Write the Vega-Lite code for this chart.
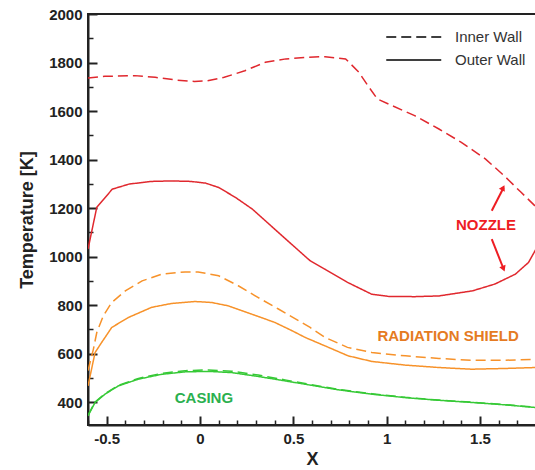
{
  "$schema": "https://vega.github.io/schema/vega-lite/v6.json",
  "width": 448,
  "height": 411,
  "autosize": {"type": "none"},
  "padding": {"left": 88, "top": 14, "right": 0, "bottom": 45},
  "background": "white",
  "config": {
    "view": {"stroke": "#222", "strokeWidth": 2},
    "font": "Liberation Sans",
    "axis": {"labelFont": "Liberation Sans", "titleFont": "Liberation Sans"},
    "legend": {"symbolBaseStrokeColor": "black", "symbolBaseFillColor": "transparent"}
  },
  "datasets": {
    "curves": [
      {"c": "nozzle", "w": "Inner Wall", "x": -0.6, "t": 1736},
      {"c": "nozzle", "w": "Inner Wall", "x": -0.51, "t": 1743},
      {"c": "nozzle", "w": "Inner Wall", "x": -0.35, "t": 1746},
      {"c": "nozzle", "w": "Inner Wall", "x": -0.24, "t": 1739},
      {"c": "nozzle", "w": "Inner Wall", "x": -0.13, "t": 1728},
      {"c": "nozzle", "w": "Inner Wall", "x": -0.03, "t": 1722},
      {"c": "nozzle", "w": "Inner Wall", "x": 0.04, "t": 1725},
      {"c": "nozzle", "w": "Inner Wall", "x": 0.13, "t": 1739},
      {"c": "nozzle", "w": "Inner Wall", "x": 0.24, "t": 1766},
      {"c": "nozzle", "w": "Inner Wall", "x": 0.35, "t": 1801},
      {"c": "nozzle", "w": "Inner Wall", "x": 0.46, "t": 1815},
      {"c": "nozzle", "w": "Inner Wall", "x": 0.58, "t": 1822},
      {"c": "nozzle", "w": "Inner Wall", "x": 0.67, "t": 1824},
      {"c": "nozzle", "w": "Inner Wall", "x": 0.78, "t": 1815},
      {"c": "nozzle", "w": "Inner Wall", "x": 0.85, "t": 1761},
      {"c": "nozzle", "w": "Inner Wall", "x": 0.9, "t": 1704},
      {"c": "nozzle", "w": "Inner Wall", "x": 0.95, "t": 1650},
      {"c": "nozzle", "w": "Inner Wall", "x": 1.03, "t": 1622},
      {"c": "nozzle", "w": "Inner Wall", "x": 1.15, "t": 1581},
      {"c": "nozzle", "w": "Inner Wall", "x": 1.28, "t": 1526},
      {"c": "nozzle", "w": "Inner Wall", "x": 1.4, "t": 1471},
      {"c": "nozzle", "w": "Inner Wall", "x": 1.53, "t": 1402},
      {"c": "nozzle", "w": "Inner Wall", "x": 1.63, "t": 1333},
      {"c": "nozzle", "w": "Inner Wall", "x": 1.72, "t": 1265},
      {"c": "nozzle", "w": "Inner Wall", "x": 1.8, "t": 1205},
      {"c": "nozzle", "w": "Outer Wall", "x": -0.6, "t": 1031},
      {"c": "nozzle", "w": "Outer Wall", "x": -0.553, "t": 1203},
      {"c": "nozzle", "w": "Outer Wall", "x": -0.47, "t": 1278},
      {"c": "nozzle", "w": "Outer Wall", "x": -0.38, "t": 1299},
      {"c": "nozzle", "w": "Outer Wall", "x": -0.26, "t": 1310},
      {"c": "nozzle", "w": "Outer Wall", "x": -0.15, "t": 1312},
      {"c": "nozzle", "w": "Outer Wall", "x": -0.05, "t": 1310},
      {"c": "nozzle", "w": "Outer Wall", "x": 0.03, "t": 1303},
      {"c": "nozzle", "w": "Outer Wall", "x": 0.1, "t": 1285},
      {"c": "nozzle", "w": "Outer Wall", "x": 0.19, "t": 1244},
      {"c": "nozzle", "w": "Outer Wall", "x": 0.28, "t": 1196},
      {"c": "nozzle", "w": "Outer Wall", "x": 0.37, "t": 1134},
      {"c": "nozzle", "w": "Outer Wall", "x": 0.46, "t": 1072},
      {"c": "nozzle", "w": "Outer Wall", "x": 0.53, "t": 1024},
      {"c": "nozzle", "w": "Outer Wall", "x": 0.59, "t": 983},
      {"c": "nozzle", "w": "Outer Wall", "x": 0.67, "t": 948},
      {"c": "nozzle", "w": "Outer Wall", "x": 0.79, "t": 894},
      {"c": "nozzle", "w": "Outer Wall", "x": 0.92, "t": 845},
      {"c": "nozzle", "w": "Outer Wall", "x": 1.01, "t": 836},
      {"c": "nozzle", "w": "Outer Wall", "x": 1.15, "t": 835},
      {"c": "nozzle", "w": "Outer Wall", "x": 1.28, "t": 838},
      {"c": "nozzle", "w": "Outer Wall", "x": 1.46, "t": 859},
      {"c": "nozzle", "w": "Outer Wall", "x": 1.58, "t": 887},
      {"c": "nozzle", "w": "Outer Wall", "x": 1.69, "t": 928},
      {"c": "nozzle", "w": "Outer Wall", "x": 1.76, "t": 976},
      {"c": "nozzle", "w": "Outer Wall", "x": 1.8, "t": 1031},
      {"c": "shield", "w": "Inner Wall", "x": -0.6, "t": 530},
      {"c": "shield", "w": "Inner Wall", "x": -0.571, "t": 619},
      {"c": "shield", "w": "Inner Wall", "x": -0.553, "t": 687},
      {"c": "shield", "w": "Inner Wall", "x": -0.518, "t": 756},
      {"c": "shield", "w": "Inner Wall", "x": -0.473, "t": 811},
      {"c": "shield", "w": "Inner Wall", "x": -0.4, "t": 859},
      {"c": "shield", "w": "Inner Wall", "x": -0.31, "t": 900},
      {"c": "shield", "w": "Inner Wall", "x": -0.205, "t": 928},
      {"c": "shield", "w": "Inner Wall", "x": -0.08, "t": 937},
      {"c": "shield", "w": "Inner Wall", "x": -0.01, "t": 937},
      {"c": "shield", "w": "Inner Wall", "x": 0.1, "t": 921},
      {"c": "shield", "w": "Inner Wall", "x": 0.205, "t": 880},
      {"c": "shield", "w": "Inner Wall", "x": 0.31, "t": 832},
      {"c": "shield", "w": "Inner Wall", "x": 0.42, "t": 784},
      {"c": "shield", "w": "Inner Wall", "x": 0.53, "t": 735},
      {"c": "shield", "w": "Inner Wall", "x": 0.59, "t": 708},
      {"c": "shield", "w": "Inner Wall", "x": 0.67, "t": 667},
      {"c": "shield", "w": "Inner Wall", "x": 0.79, "t": 626},
      {"c": "shield", "w": "Inner Wall", "x": 0.92, "t": 605},
      {"c": "shield", "w": "Inner Wall", "x": 1.1, "t": 591},
      {"c": "shield", "w": "Inner Wall", "x": 1.28, "t": 580},
      {"c": "shield", "w": "Inner Wall", "x": 1.455, "t": 573},
      {"c": "shield", "w": "Inner Wall", "x": 1.634, "t": 573},
      {"c": "shield", "w": "Inner Wall", "x": 1.8, "t": 577},
      {"c": "shield", "w": "Outer Wall", "x": -0.6, "t": 467},
      {"c": "shield", "w": "Outer Wall", "x": -0.562, "t": 605},
      {"c": "shield", "w": "Outer Wall", "x": -0.527, "t": 646},
      {"c": "shield", "w": "Outer Wall", "x": -0.473, "t": 708},
      {"c": "shield", "w": "Outer Wall", "x": -0.384, "t": 749},
      {"c": "shield", "w": "Outer Wall", "x": -0.259, "t": 791},
      {"c": "shield", "w": "Outer Wall", "x": -0.152, "t": 807},
      {"c": "shield", "w": "Outer Wall", "x": -0.027, "t": 815},
      {"c": "shield", "w": "Outer Wall", "x": 0.062, "t": 811},
      {"c": "shield", "w": "Outer Wall", "x": 0.152, "t": 797},
      {"c": "shield", "w": "Outer Wall", "x": 0.277, "t": 763},
      {"c": "shield", "w": "Outer Wall", "x": 0.4, "t": 729},
      {"c": "shield", "w": "Outer Wall", "x": 0.5, "t": 692},
      {"c": "shield", "w": "Outer Wall", "x": 0.563, "t": 667},
      {"c": "shield", "w": "Outer Wall", "x": 0.67, "t": 632},
      {"c": "shield", "w": "Outer Wall", "x": 0.794, "t": 591},
      {"c": "shield", "w": "Outer Wall", "x": 0.92, "t": 568},
      {"c": "shield", "w": "Outer Wall", "x": 1.098, "t": 553},
      {"c": "shield", "w": "Outer Wall", "x": 1.277, "t": 543},
      {"c": "shield", "w": "Outer Wall", "x": 1.455, "t": 536},
      {"c": "shield", "w": "Outer Wall", "x": 1.634, "t": 539},
      {"c": "shield", "w": "Outer Wall", "x": 1.8, "t": 543},
      {"c": "casing", "w": "Inner Wall", "x": -0.6, "t": 346},
      {"c": "casing", "w": "Inner Wall", "x": -0.562, "t": 401},
      {"c": "casing", "w": "Inner Wall", "x": -0.509, "t": 435},
      {"c": "casing", "w": "Inner Wall", "x": -0.438, "t": 469},
      {"c": "casing", "w": "Inner Wall", "x": -0.33, "t": 498},
      {"c": "casing", "w": "Inner Wall", "x": -0.205, "t": 519},
      {"c": "casing", "w": "Inner Wall", "x": -0.08, "t": 530},
      {"c": "casing", "w": "Inner Wall", "x": 0.045, "t": 533},
      {"c": "casing", "w": "Inner Wall", "x": 0.17, "t": 528},
      {"c": "casing", "w": "Inner Wall", "x": 0.312, "t": 512},
      {"c": "casing", "w": "Inner Wall", "x": 0.455, "t": 492},
      {"c": "casing", "w": "Inner Wall", "x": 0.563, "t": 477},
      {"c": "casing", "w": "Inner Wall", "x": 0.741, "t": 453},
      {"c": "casing", "w": "Inner Wall", "x": 0.92, "t": 435},
      {"c": "casing", "w": "Inner Wall", "x": 1.098, "t": 420},
      {"c": "casing", "w": "Inner Wall", "x": 1.277, "t": 409},
      {"c": "casing", "w": "Inner Wall", "x": 1.455, "t": 400},
      {"c": "casing", "w": "Inner Wall", "x": 1.634, "t": 390},
      {"c": "casing", "w": "Inner Wall", "x": 1.8, "t": 379},
      {"c": "casing", "w": "Outer Wall", "x": -0.6, "t": 344},
      {"c": "casing", "w": "Outer Wall", "x": -0.562, "t": 399},
      {"c": "casing", "w": "Outer Wall", "x": -0.509, "t": 433},
      {"c": "casing", "w": "Outer Wall", "x": -0.438, "t": 467},
      {"c": "casing", "w": "Outer Wall", "x": -0.33, "t": 495},
      {"c": "casing", "w": "Outer Wall", "x": -0.205, "t": 515},
      {"c": "casing", "w": "Outer Wall", "x": -0.08, "t": 525},
      {"c": "casing", "w": "Outer Wall", "x": 0.045, "t": 527},
      {"c": "casing", "w": "Outer Wall", "x": 0.17, "t": 522},
      {"c": "casing", "w": "Outer Wall", "x": 0.312, "t": 506},
      {"c": "casing", "w": "Outer Wall", "x": 0.455, "t": 488},
      {"c": "casing", "w": "Outer Wall", "x": 0.563, "t": 474},
      {"c": "casing", "w": "Outer Wall", "x": 0.741, "t": 451},
      {"c": "casing", "w": "Outer Wall", "x": 0.92, "t": 433},
      {"c": "casing", "w": "Outer Wall", "x": 1.098, "t": 419},
      {"c": "casing", "w": "Outer Wall", "x": 1.277, "t": 408},
      {"c": "casing", "w": "Outer Wall", "x": 1.455, "t": 399},
      {"c": "casing", "w": "Outer Wall", "x": 1.634, "t": 389},
      {"c": "casing", "w": "Outer Wall", "x": 1.8, "t": 378}
    ]
  },
  "resolve": {"axis": {"x": "independent", "y": "independent"}},
  "layer": [
    {
      "data": {"name": "curves"},
      "mark": {"type": "point", "opacity": 0},
      "encoding": {
        "x": {"field": "x", "type": "quantitative",
          "axis": {"orient": "bottom", "values": [-0.6, -0.4, -0.3, -0.2, -0.1, 0.1, 0.2, 0.3, 0.4, 0.6, 0.7, 0.8, 0.9, 1.1, 1.2, 1.3, 1.4, 1.6, 1.7, 1.8],
            "labels": false, "domain": false, "grid": false, "title": null, "tickSize": -5, "tickColor": "#222", "tickWidth": 1.5}},
        "y": {"field": "t", "type": "quantitative",
          "axis": {"orient": "left", "values": [500, 700, 900, 1100, 1300, 1500, 1700, 1900],
            "labels": false, "domain": false, "grid": false, "title": null, "tickSize": -5, "tickColor": "#222", "tickWidth": 1.5}}
      }
    },
    {
      "data": {"name": "curves"},
      "mark": {"type": "line", "strokeWidth": 1.5, "clip": true},
      "encoding": {
        "x": {"field": "x", "type": "quantitative",
          "scale": {"domain": [-0.6, 1.8], "nice": false, "zero": false},
          "axis": {"orient": "bottom", "values": [-0.5, 0, 0.5, 1, 1.5], "labelExpr": "'' + datum.value",
            "grid": false, "title": "X", "tickSize": -9, "tickColor": "#222", "tickWidth": 2,
            "domainColor": "#222", "domainWidth": 2,
            "labelFontSize": 15, "labelFontWeight": "bold", "labelColor": "#222", "labelPadding": 15,
            "titleFontSize": 18, "titleFontWeight": "bold", "titleColor": "#222", "titlePadding": 4}},
        "y": {"field": "t", "type": "quantitative",
          "scale": {"domain": [306, 2000], "nice": false, "zero": false},
          "axis": {"orient": "left", "values": [400, 600, 800, 1000, 1200, 1400, 1600, 1800, 2000], "labelExpr": "'' + datum.value",
            "grid": false, "title": "Temperature [K]", "tickSize": -9, "tickColor": "#222", "tickWidth": 2,
            "domainColor": "#222", "domainWidth": 2,
            "labelFontSize": 15, "labelFontWeight": "bold", "labelColor": "#222", "labelPadding": 15,
            "titleFontSize": 18, "titleFontWeight": "bold", "titleColor": "#222", "titlePadding": 12}},
        "color": {"field": "c", "type": "nominal",
          "scale": {"domain": ["nozzle", "shield", "casing"], "range": ["#e0282e", "#f7922a", "#36c936"]},
          "legend": null},
        "strokeDash": {"field": "w", "type": "nominal",
          "scale": {"domain": ["Inner Wall", "Outer Wall"], "range": [[10, 5], [1, 0]]},
          "legend": {"title": null, "orient": "none", "legendX": 297, "legendY": 8,
            "symbolType": "M-1,0H3", "symbolSize": 756, "symbolStrokeWidth": 1.6, "symbolStrokeColor": "black",
            "labelFontSize": 15, "labelColor": "#333", "labelFont": "Liberation Sans", "labelOffset": 40, "rowPadding": 0}}
      }
    },
    {
      "data": {"values": [{}]},
      "mark": {"type": "text", "font": "Liberation Sans", "fontWeight": "bold", "fontSize": 15, "color": "#ee1d23"},
      "encoding": {"x": {"datum": 1.532, "type": "quantitative", "axis": null}, "y": {"datum": 1130, "type": "quantitative", "axis": null}, "text": {"value": "NOZZLE"}}
    },
    {
      "data": {"values": [{}]},
      "mark": {"type": "text", "font": "Liberation Sans", "fontWeight": "bold", "fontSize": 15, "color": "#e57b22"},
      "encoding": {"x": {"datum": 1.329, "type": "quantitative", "axis": null}, "y": {"datum": 671, "type": "quantitative", "axis": null}, "text": {"value": "RADIATION SHIELD"}}
    },
    {
      "data": {"values": [{}]},
      "mark": {"type": "text", "font": "Liberation Sans", "fontWeight": "bold", "fontSize": 15, "color": "#2bb04f"},
      "encoding": {"x": {"datum": 0.021, "type": "quantitative", "axis": null}, "y": {"datum": 419, "type": "quantitative", "axis": null}, "text": {"value": "CASING"}}
    },
    {
      "data": {"values": [{}]},
      "mark": {"type": "rule", "color": "#ee1d23", "strokeWidth": 2},
      "encoding": {"x": {"datum": 1.563, "type": "quantitative", "axis": null}, "y": {"datum": 1189, "type": "quantitative", "axis": null},
        "x2": {"datum": 1.626}, "y2": {"datum": 1284}}
    },
    {
      "data": {"values": [{}]},
      "mark": {"type": "rule", "color": "#ee1d23", "strokeWidth": 2},
      "encoding": {"x": {"datum": 1.563, "type": "quantitative", "axis": null}, "y": {"datum": 1072, "type": "quantitative", "axis": null},
        "x2": {"datum": 1.626}, "y2": {"datum": 950}}
    },
    {
      "data": {"values": [{}]},
      "mark": {"type": "point", "shape": "triangle-up", "filled": true, "color": "#ee1d23", "size": 45, "angle": 27, "opacity": 1},
      "encoding": {"x": {"datum": 1.624, "type": "quantitative", "axis": null}, "y": {"datum": 1284, "type": "quantitative", "axis": null}}
    },
    {
      "data": {"values": [{}]},
      "mark": {"type": "point", "shape": "triangle-up", "filled": true, "color": "#ee1d23", "size": 45, "angle": 158, "opacity": 1},
      "encoding": {"x": {"datum": 1.626, "type": "quantitative", "axis": null}, "y": {"datum": 950, "type": "quantitative", "axis": null}}
    }
  ]
}
